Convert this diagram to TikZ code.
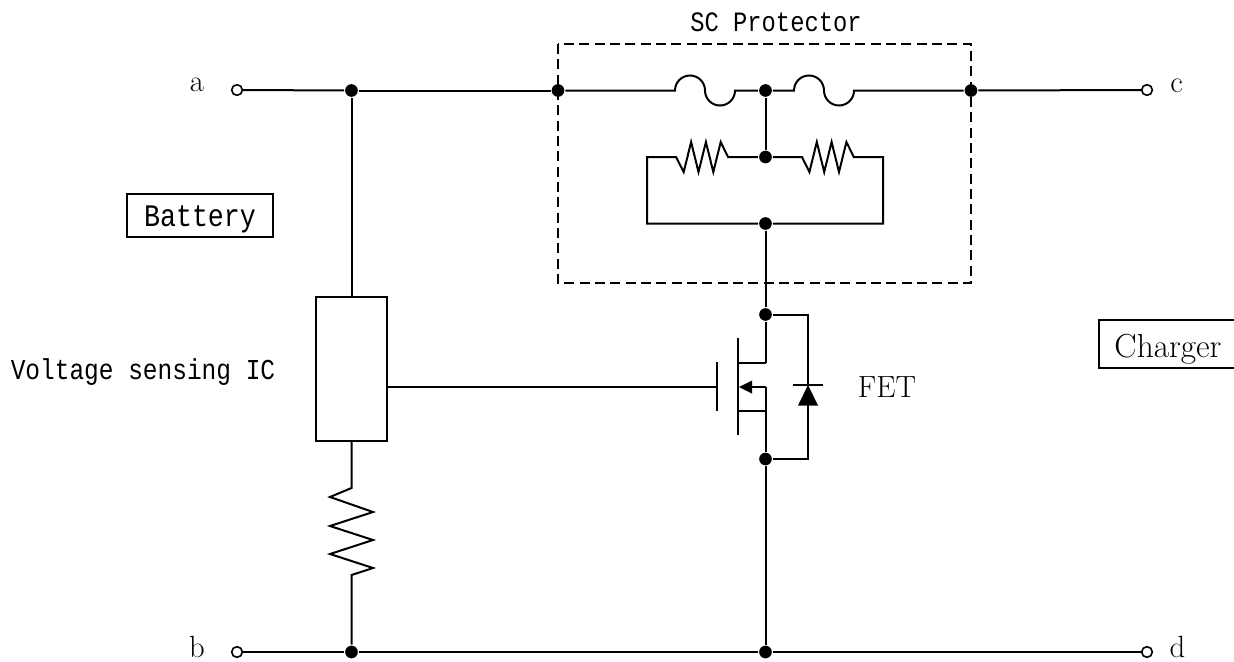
\documentclass[tikz,border=0pt]{standalone}
\usepackage{fontspec}
\newfontfamily\gothfont[FakeStretch=0.85]{Liberation Mono}
\usepackage{tikz}

\begin{document}
\begin{tikzpicture}[x=0.75pt,y=-0.75pt,line width=1.5pt]
	\tikzstyle{vertex}=[circle,fill=black,inner sep=0pt,minimum size=9.5pt]
	\tikzstyle{port}=[circle,draw=black,fill=white,line width=1.2pt,inner sep=0pt,minimum size=8pt]
	\tikzstyle{labelbox}=[draw=black,inner sep=0pt]
	\tikzstyle{goth}=[font=\gothfont\fontsize{21.6pt}{24pt}\selectfont]
	\tikzstyle{romantext}=[inner sep=0pt,font=\fontsize{23pt}{25pt}\selectfont]
	\useasboundingbox (0,0) rectangle (1234,661);
	% dashed box first, wires go over it
	\draw[dashed,dash pattern=on 7.5pt off 4pt] (558,44) rectangle (971,283);
	\node[port](pa) at (237,90) {};
	\node[port](pb) at (237,652) {};
	\node[port](pc) at (1147,90) {};
	\node[port](pd) at (1147,652) {};
	\node[vertex](v1) at (351.5,90.5) {};
	\node[vertex](v2) at (558,90.5) {};
	\node[vertex](v3) at (765.5,90.5) {};
	\node[vertex](v4) at (971,90.5) {};
	\node[vertex](v5) at (765.5,157) {};
	\node[vertex](v6) at (765.5,223.5) {};
	\node[vertex](v7) at (765.5,314.5) {};
	\node[vertex](v8) at (765.5,459) {};
	\node[vertex](v9) at (351.5,652) {};
	\node[vertex](v10) at (765.5,652) {};
	\node[draw=black,inner sep=0pt,minimum width=53.25pt,minimum height=108pt](ic) at (351.5,369) {};
	\coordinate(f1) at (675,90.5);
	\coordinate(f2) at (794,90.5);
	\coordinate(r1) at (676,157);
	\coordinate(r2) at (802,157);
	\coordinate(c1) at (647,157);
	\coordinate(c2) at (883,157);
	\coordinate(c3) at (647,223.5);
	\coordinate(c4) at (883,223.5);
	\coordinate(g1) at (717,387);
	\coordinate(d1) at (808,314.5);
	\coordinate(d2) at (808,459);
	\coordinate(k1) at (808,385);
	\coordinate(s1) at (765.5,362.5);
	\coordinate(s2) at (765.5,410.5);
	\coordinate(s3) at (765.5,387);
	\coordinate(h1) at (737.5,362.5);
	\coordinate(h2) at (737.5,410.5);
	\coordinate(h3) at (739,387);
	\coordinate(z1) at (351.5,488);
	% main wires
	\draw[-](pa) -- (v1);
	\draw[-](v1) -- (v2);
	\draw[-](v2) -- (f1) arc[start angle=180,end angle=0,radius=11.25pt] arc[start angle=180,end angle=360,radius=11.25pt] -- (v3);
	\draw[-](v3) -- (f2) arc[start angle=180,end angle=0,radius=11.25pt] arc[start angle=180,end angle=360,radius=11.25pt] -- (v4);
	\draw[-](v4) -- (pc);
	\draw[-](pb) -- (v9);
	\draw[-](v9) -- (v10);
	\draw[-](v10) -- (pd);
	\draw[-](v1) -- (ic);
	\draw[-](v3) -- (v5);
	\draw[-](v6) -- (v7);
	\draw[-](v7) -- (s1);
	\draw[-](v8) -- (s2);
	\draw[-](v8) -- (v10);
	% protector resistors
	\draw[-](v5) -- (728,157) -- ++(-7.3,-15) -- ++(-7.4,30) -- ++(-7.4,-30) -- ++(-7.4,30) -- ++(-7.4,-30) -- ++(-7.4,30) -- (r1) -- (c1) -- (c3) -- (v6);
	\draw[-](v5) -- (r2) -- ++(7.4,15) -- ++(7.4,-30) -- ++(7.4,30) -- ++(7.4,-30) -- ++(7.4,30) -- ++(7.4,-30) -- ++(7.4,15) -- (c2) -- (c4) -- (v6);
	% sensing branch
	\draw[-](ic) -- (z1) -- (330,497) -- (373,512) -- (330,526) -- (373,540) -- (330,554) -- (373,568) -- (351.5,575) -- (v9);
	% fet
	\draw[-](ic.east |- g1) -- (g1);
	\draw[-](716.7,362) -- (716.7,411);
	\draw[-](737.5,338) -- (737.5,435);
	\draw[-](h1) -- (s1);
	\draw[-](h2) -- (s2);
	\draw[-](s3) -- (751,387);
	\draw[-](s3) -- (s2);
	\fill (h3) -- (752,380.5) -- (752,393.5) -- cycle;
	% body diode
	\draw[-](v7) -- (d1) -- (k1);
	\draw[-](v8) -- (d2) -- (k1);
	\draw[-](793,385) -- (823,385);
	\fill (k1) -- (798,405.5) -- (818,405.5) -- cycle;
	% labels
	\node[romantext](la) at (197,85) {a};
	\node[romantext](lb) at (197,647) {b};
	\node[romantext](lc) at (1176.5,85.5) {c};
	\node[romantext](ld) at (1177.5,647) {d};
	\node[romantext](lfet) at (887,387) {FET};
	\node[goth,font=\gothfont\fontsize{21pt}{22pt}\selectfont](lsc) at (776,22) {SC Protector};
	\node[goth](lic) at (143,372) {Voltage sensing IC};
	\node[labelbox,minimum width=109.5pt,minimum height=32pt,goth,font=\gothfont\fontsize{23.5pt}{26pt}\selectfont](bat) at (200,215.5) {\raisebox{-8.6pt}[0pt][0pt]{Battery}};
	\node[labelbox,minimum width=103.5pt,minimum height=36pt,romantext,font=\fontsize{25pt}{27pt}\selectfont](chg) at (1168,344) {\raisebox{-9.75pt}[0pt][0pt]{Charger}};
\end{tikzpicture}
\end{document}
